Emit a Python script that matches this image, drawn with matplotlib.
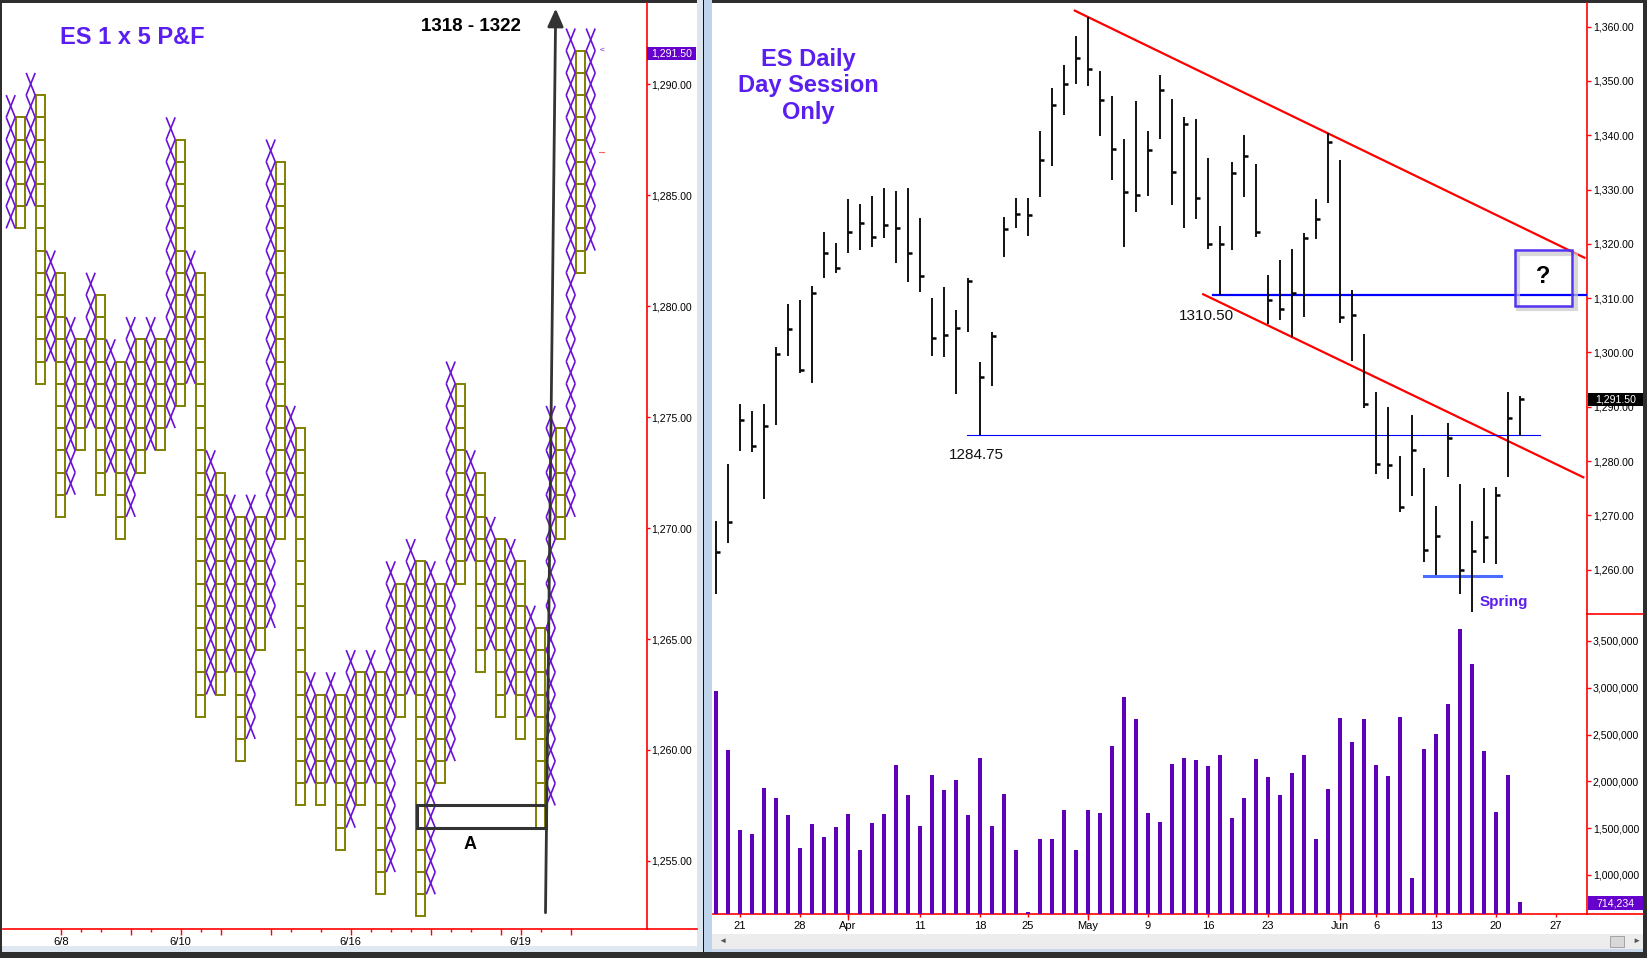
import numpy as np
import matplotlib
matplotlib.use('Agg')
import matplotlib.pyplot as plt
from matplotlib.patches import Rectangle
from matplotlib.lines import Line2D
from matplotlib.collections import LineCollection
from matplotlib.ticker import FuncFormatter

plt.rcParams['font.family'] = ['Liberation Sans', 'DejaVu Sans']

W, H = 1647, 958

# ---------- P&F chart (1 point box, 5 box reversal), first column is X ----------
pf_lows = [1284, 1284, 1285, 1277, 1278, 1271, 1272, 1274, 1275, 1272,
           1273, 1270, 1271, 1273, 1274, 1274, 1275, 1276, 1277, 1262,
           1263, 1263, 1264, 1260, 1261, 1265, 1266, 1270, 1271, 1258,
           1259, 1258, 1259, 1256, 1257, 1258, 1259, 1254, 1255, 1262,
           1263, 1253, 1254, 1259, 1260, 1268, 1269, 1264, 1265, 1262,
           1263, 1261, 1262, 1257, 1258, 1270, 1271, 1282, 1283]
pf_highs = [1289, 1288, 1290, 1289, 1282, 1281, 1279, 1278, 1281, 1280,
            1278, 1277, 1279, 1278, 1279, 1278, 1288, 1287, 1282, 1281,
            1273, 1272, 1271, 1270, 1271, 1270, 1287, 1286, 1275, 1274,
            1263, 1262, 1263, 1262, 1264, 1263, 1264, 1263, 1268, 1267,
            1269, 1268, 1268, 1267, 1277, 1276, 1273, 1272, 1270, 1269,
            1269, 1268, 1266, 1265, 1275, 1274, 1292, 1291, 1292]
pf_major_cols = [5, 12, 17, 21, 26, 34, 42, 49, 51, 56]
pf_minor_cols = [7, 9, 14, 19, 28, 31, 36, 38, 40, 44, 46, 53]
pf_date_labels = {5: '6/8', 17: '6/10', 34: '6/16', 51: '6/19'}
pf_yticks = [1255, 1260, 1265, 1270, 1275, 1280, 1285, 1290]
pf_box_a = (40.6, 53.5, 1257)          # columns from/to, box price
pf_arrow = [(53.48, 1252.67), (54.5, 1293.4)]

# ---------- ES daily, day session ----------
highs = [1269.0, 1279.5, 1290.6, 1289.2, 1290.5, 1301.1, 1308.9, 1309.7, 1312.2, 1322.2,
         1320.1, 1328.2, 1327.4, 1328.8, 1330.2, 1329.7, 1330.2, 1324.7, 1310.0, 1312.1,
         1307.8, 1313.7, 1298.3, 1303.8, 1324.9, 1328.4, 1328.4, 1340.8, 1348.7, 1353.0,
         1358.3, 1361.7, 1351.8, 1347.2, 1339.3, 1346.3, 1340.8, 1351.1, 1346.7, 1343.3,
         1343.0, 1335.8, 1323.3, 1335.0, 1340.1, 1334.7, 1314.3, 1317.0, 1319.1, 1322.0,
         1328.3, 1340.4, 1335.5, 1311.5, 1303.4, 1292.7, 1290.0, 1280.9, 1288.5, 1278.7,
         1271.7, 1287.0, 1275.7, 1269.0, 1275.1, 1275.3, 1292.7, 1291.9]
lows = [1255.6, 1265.0, 1281.9, 1281.7, 1273.1, 1286.6, 1299.4, 1296.2, 1294.4, 1313.8,
        1314.7, 1318.4, 1318.9, 1319.5, 1321.0, 1316.4, 1312.9, 1311.2, 1299.4, 1299.2,
        1292.4, 1303.7, 1284.75, 1293.9, 1317.5, 1323.0, 1321.5, 1328.7, 1334.4, 1343.8,
        1349.5, 1349.0, 1339.9, 1331.7, 1319.5, 1325.9, 1328.9, 1339.4, 1327.2, 1323.0,
        1324.6, 1319.0, 1310.5, 1318.8, 1328.7, 1321.2, 1305.3, 1305.9, 1302.9, 1306.6,
        1320.9, 1327.5, 1305.5, 1298.5, 1289.7, 1277.6, 1276.7, 1270.6, 1273.5, 1261.5,
        1259.0, 1277.1, 1255.5, 1252.2, 1261.2, 1261.0, 1277.1, 1284.6]
closes = [1263.2, 1268.7, 1287.6, 1282.8, 1286.5, 1299.7, 1304.4, 1296.7, 1310.9, 1318.4,
          1315.6, 1322.2, 1323.9, 1321.2, 1323.4, 1322.9, 1318.3, 1314.0, 1302.6, 1303.2,
          1304.6, 1313.2, 1295.4, 1303.0, 1322.7, 1325.5, 1325.3, 1335.5, 1345.5, 1349.4,
          1354.2, 1352.2, 1346.5, 1337.4, 1329.5, 1329.0, 1337.2, 1348.4, 1333.2, 1342.1,
          1328.4, 1319.9, 1319.9, 1333.0, 1336.2, 1322.1, 1309.7, 1308.0, 1310.9, 1321.0,
          1324.5, 1338.7, 1306.5, 1306.9, 1290.6, 1279.4, 1279.3, 1271.6, 1282.1, 1263.6,
          1266.2, 1284.3, 1260.0, 1263.5, 1266.1, 1273.8, 1288.0, 1291.5]
volume = [2970000, 2340000, 1480000, 1440000, 1930000, 1820000, 1640000, 1290000, 1540000, 1410000,
          1510000, 1650000, 1270000, 1560000, 1650000, 2180000, 1850000, 1520000, 2070000, 1910000,
          2010000, 1640000, 2250000, 1520000, 1870000, 1270000, 605000, 1380000, 1380000, 1690000,
          1270000, 1690000, 1660000, 2380000, 2900000, 2670000, 1660000, 1570000, 2190000, 2250000,
          2230000, 2160000, 2280000, 1610000, 1820000, 2240000, 2050000, 1850000, 2090000, 2280000,
          1380000, 1920000, 2680000, 2420000, 2670000, 2180000, 2060000, 2690000, 970000, 2350000,
          2510000, 2830000, 3630000, 3250000, 2320000, 1670000, 2070000, 714234]
date_idx = [2, 7, 11, 17, 22, 26, 31, 36, 41, 46, 52, 55, 60, 65, 70]
date_labels = ['21', '28', 'Apr', '11', '18', '25', 'May', '9', '16', '23', 'Jun', '6', '13', '20', '27']
month_idx = [11, 31, 52]
price_ticks = [1260, 1270, 1280, 1290, 1300, 1310, 1320, 1330, 1340, 1350, 1360]
vol_ticks = [1000000, 1500000, 2000000, 2500000, 3000000, 3500000]

upper_trend = [(29.9, 1362.95), (72.36, 1317.46)]
lower_trend = [(40.6, 1310.72), (72.28, 1277.01)]
level_1310 = (41.4, 72.6, 1310.5)
level_1284 = (20.9, 68.7, 1284.75)
spring_level = (59.0, 65.4, 1258.8)
target_box = (66.56, 71.36, 1308.62, 1318.88)

RED = '#ff0000'
OLIVE = '#808000'
XPURPLE = '#6a10d8'
TITLE = '#5a1ff0'
VOLC = '#6000b8'

fig = plt.figure(figsize=(W / 100, H / 100), dpi=100, facecolor='white')


def prect(x0, y0, x1, y1):
    return [x0 / W, 1 - y1 / H, (x1 - x0) / W, (y1 - y0) / H]


def fig_rect(x0, y0, x1, y1, color, z=-1, ec='none', lw=0):
    fig.add_artist(Rectangle((x0 / W, 1 - y1 / H), (x1 - x0) / W, (y1 - y0) / H,
                             transform=fig.transFigure, facecolor=color,
                             edgecolor=ec, lw=lw, zorder=z))


def fig_line(xs, ys, color, lw, z=5):
    fig.add_artist(Line2D([x / W for x in xs], [1 - y / H for y in ys],
                          transform=fig.transFigure, color=color, lw=lw, zorder=z))


def fig_label(x0, y0, x1, y1, fc, txt):
    fig_rect(x0, y0, x1, y1, fc, z=6)
    fig.text((x0 + x1) / 2 / W, 1 - (y0 + y1) / 2 / H, txt, color='white',
             fontsize=7.6, ha='center', va='center', zorder=7)


# window chrome
fig_rect(0, 0, W, 3, '#2e2e2e')
fig_rect(0, 0, 2, H, '#2e2e2e')
fig_rect(697, 0, 704, 952, '#dde6ef')
fig_rect(702.5, 0, 704, 952, '#111111')
fig_rect(704, 0, 712, 952, '#bfd4ea')
fig_rect(1643, 0, W, H, '#2e2e2e')
fig_rect(2, 946, 697, 952, '#dfe7f0')
fig_rect(712, 934, 1643, 949, '#ededed')
fig_rect(1610, 936, 1624, 947, '#d8d8d8', ec='#999999', lw=0.6)
fig_rect(712, 949, 1643, 952, '#c8d8ea')
fig_rect(0, 952, W, H, '#2e2e2e')
fig.text(722 / W, 1 - 941 / H, '\u25c4', fontsize=6, color='#555555', ha='center', va='center')
fig.text(1636 / W, 1 - 941 / H, '\u25ba', fontsize=6, color='#555555', ha='center', va='center')

# ================= left: P&F =================
ax = fig.add_axes(prect(3, 3, 646.7, 928.7))
ax.set_facecolor('none')
ax.set_xlim(-0.77, 63.6)
ax.set_ylim(1251.95, 1293.65)
for s in ['left', 'top']:
    ax.spines[s].set_visible(False)
for s in ['right', 'bottom']:
    ax.spines[s].set_color(RED)
    ax.spines[s].set_linewidth(1.2)

x_segs = []
for i, (lo, hi) in enumerate(zip(pf_lows, pf_highs)):
    for p in range(lo, hi + 1):
        if i % 2 == 0:
            x_segs.append([(i - 0.45, p - 0.5), (i + 0.45, p + 0.5)])
            x_segs.append([(i - 0.45, p + 0.5), (i + 0.45, p - 0.5)])
        else:
            ax.add_patch(Rectangle((i - 0.44, p - 0.5), 0.88, 1.0, fill=False,
                                   ec=OLIVE, lw=1.4, zorder=2))
ax.add_collection(LineCollection(x_segs, colors=XPURPLE, linewidths=1.2, zorder=3))

c0, c1, pa = pf_box_a
ax.add_patch(Rectangle((c0, pa - 0.5), c1 - c0, 1.0, fill=False, ec='#333333', lw=2.2, zorder=5))
ax.annotate('', xy=pf_arrow[1], xytext=pf_arrow[0],
            arrowprops=dict(arrowstyle='-|>,head_length=0.9,head_width=0.4', color='#333333',
                            lw=2, mutation_scale=12, shrinkA=0, shrinkB=0), zorder=5)
ax.text(45.9, 1255.75, 'A', fontsize=13, fontweight='bold', ha='center', va='center')
ax.text(12.2, 1292.1, 'ES 1 x 5 P&F', fontsize=17, fontweight='bold', color=TITLE,
        ha='center', va='center')
ax.text(46.0, 1292.6, '1318 - 1322', fontsize=13.5, fontweight='bold', ha='center', va='center')
ax.text(59.1, 1291.55, '<', fontsize=6, color=XPURPLE, ha='center', va='center')

ax.yaxis.tick_right()
ax.set_yticks(pf_yticks)
ax.yaxis.set_major_formatter(FuncFormatter(lambda v, p: f'{v:,.2f}'))
ax.tick_params(axis='y', which='both', direction='out', length=2.4, width=1, color=RED,
               labelsize=7.6, pad=0.6)
ax.set_xticks(pf_major_cols)
ax.set_xticklabels([pf_date_labels.get(c, '') for c in pf_major_cols])
ax.set_xticks(pf_minor_cols, minor=True)
ax.tick_params(axis='x', which='major', direction='out', length=4.5, width=1, color=RED,
               labelsize=8, pad=1.5)
ax.tick_params(axis='x', which='minor', direction='out', length=2, width=1, color=RED)

fig_line([646.7, 697], [928.7, 928.7], RED, 1.2)
fig_line([599, 604], [152, 152], '#ff6060', 0.8)
fig_label(647.3, 46.7, 696, 60, '#6600cc', f'{closes[-1]:,.2f}')

# ================= right: daily bars =================
xs = np.arange(len(highs))
axp = fig.add_axes(prect(712.7, 3, 1587, 614))
axv = fig.add_axes(prect(712.7, 614, 1587, 914), sharex=axp)
axp.set_xlim(-0.275, 72.58)
axp.set_ylim(1251.84, 1364.36)
axv.set_ylim(583000, 3788000)

for a in (axp, axv):
    a.set_facecolor('none')
    for s in a.spines.values():
        s.set_visible(False)
    a.spines['right'].set_visible(True)
    a.spines['right'].set_color(RED)
    a.spines['right'].set_linewidth(1.2)
    a.yaxis.tick_right()
    a.tick_params(axis='y', direction='out', length=3, width=1, color=RED,
                  labelsize=7.6, pad=1.2)
axv.spines['bottom'].set_visible(True)
axv.spines['bottom'].set_color(RED)
axv.spines['bottom'].set_linewidth(1.2)

axp.vlines(xs, lows, highs, color='black', lw=1.3, zorder=4)
axp.hlines(closes, xs, xs + 0.32, color='black', lw=1.8, zorder=4)

for (p0, p1) in (upper_trend, lower_trend):
    axp.plot([p0[0], p1[0]], [p0[1], p1[1]], color=RED, lw=1.6, zorder=3)
axp.plot([level_1310[0], level_1310[1]], [level_1310[2]] * 2, color='#0000ff', lw=1.6, zorder=3)
axp.plot([level_1284[0], level_1284[1]], [level_1284[2]] * 2, color='#0000ff', lw=0.8, zorder=3)
axp.plot([spring_level[0], spring_level[1]], [spring_level[2]] * 2, color='#4a6cff', lw=2.2, zorder=3)

bx0, bx1, by0, by1 = target_box
axp.add_patch(Rectangle((bx0 + 0.3, by0 - 0.7), bx1 - bx0, by1 - by0, fc='none',
                        ec='#c8c8c8', lw=3, alpha=0.7, zorder=4))
axp.add_patch(Rectangle((bx0, by0), bx1 - bx0, by1 - by0, fc='none', ec='#5533ee',
                        lw=1.8, zorder=5))
axp.text((bx0 + bx1) / 2, (by0 + by1) / 2 + 0.3, '?', fontsize=17, fontweight='bold',
         ha='center', va='center', zorder=6)

axp.text(7.67, 1349.1, 'ES Daily\nDay Session\nOnly', fontsize=17, fontweight='bold',
         color=TITLE, ha='center', va='center', linespacing=1.18)
axp.text(21.67, 1281.1, '1284.75', fontsize=11, color='#111111', ha='center', va='center')
axp.text(40.9, 1306.7, '1310.50', fontsize=11, color='#111111', ha='center', va='center')
axp.text(65.67, 1254.0, 'Spring', fontsize=11, fontweight='bold', color=TITLE,
         ha='center', va='center')

axp.set_yticks(price_ticks)
axp.yaxis.set_major_formatter(FuncFormatter(lambda v, p: f'{v:,.2f}'))
axp.tick_params(axis='x', which='both', bottom=False, labelbottom=False)

axv.bar(xs, volume, width=0.33, color=VOLC, zorder=3)
axv.set_yticks(vol_ticks)
axv.yaxis.set_major_formatter(FuncFormatter(lambda v, p: f'{v:,.0f}'))
axv.xaxis.remove_overlapping_locs = False
axv.set_xticks(date_idx)
axv.set_xticklabels(date_labels)
axv.set_xticks(month_idx, minor=True)
axv.tick_params(axis='x', which='major', direction='out', length=2, width=1, color=RED,
                labelsize=8, pad=3.2)
axv.tick_params(axis='x', which='minor', direction='out', length=4.5, width=1, color=RED)

fig_line([1587, 1643], [614, 614], RED, 1.2)
fig_line([1587, 1643], [914, 914], RED, 1.2)
fig_label(1587.7, 392.5, 1642.7, 405.5, '#000000', f'{closes[-1]:,.2f}')
fig_label(1587.7, 896, 1642.7, 910, '#6600cc', f'{volume[-1]:,}')

fig.savefig('out.png', dpi=100, facecolor='white')
